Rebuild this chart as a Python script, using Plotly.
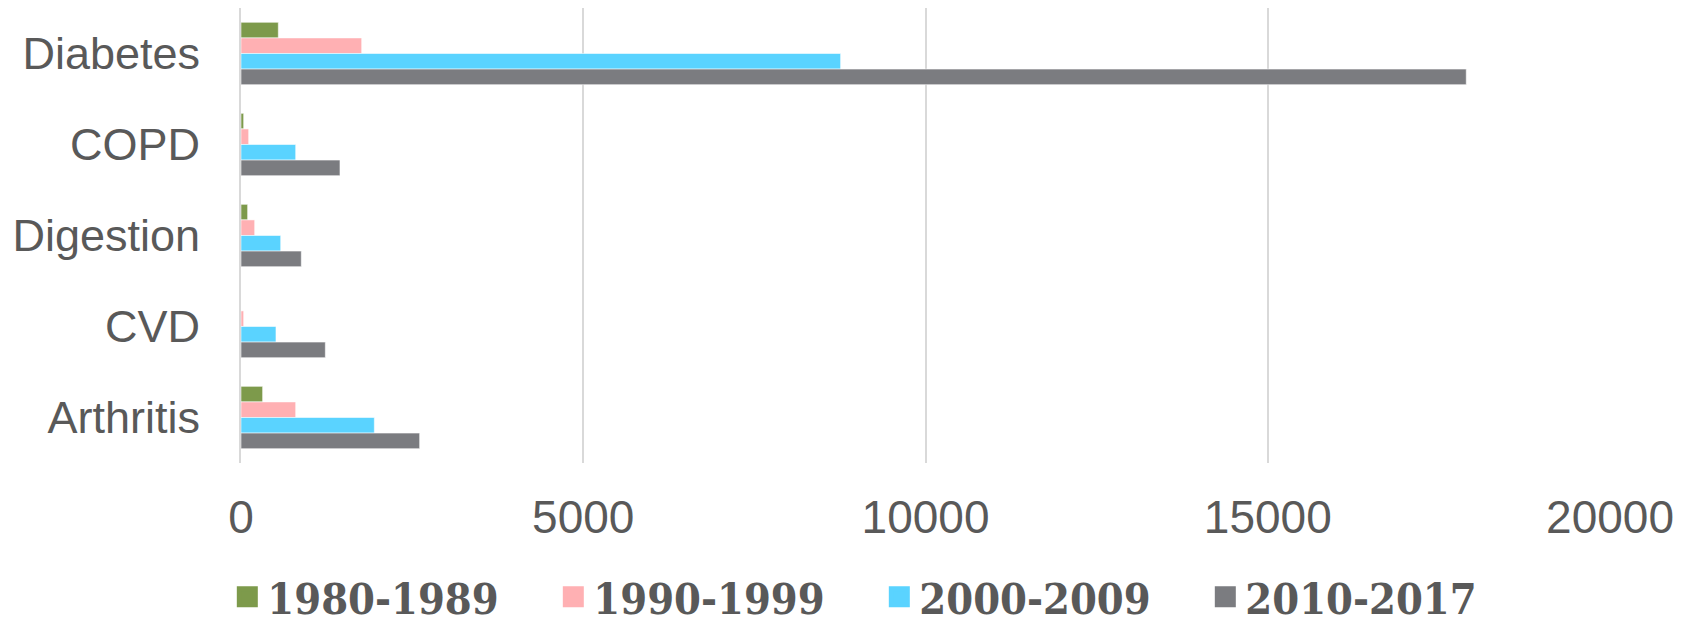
import plotly.graph_objects as go

# Disease categories, listed top to bottom
categories = ["Diabetes", "COPD", "Digestion", "CVD", "Arthritis"]

# Counts per decade, in the same order as categories
decades = ["1980-1989", "1990-1999", "2000-2009", "2010-2017"]
v_1980s = [545, 39, 97, 0, 316]
v_1990s = [1763, 112, 200, 39, 799]
v_2000s = [8760, 799, 580, 511, 1948]
v_2010s = [17900, 1446, 881, 1232, 2610]
series = [v_1980s, v_1990s, v_2000s, v_2010s]

x_ticks = [0, 5000, 10000, 15000, 20000]

colors = ["#7D9A4B", "#FFB0B3", "#5AD3FF", "#7B7C80"]
text_color = "#595959"
grid_color = "#D9D9D9"

fig = go.Figure()

for name, vals, col in zip(decades, series, colors):
    fig.add_trace(go.Bar(
        y=categories,
        x=vals,
        name=name,
        orientation="h",
        marker=dict(color=col, line=dict(color="rgba(255,255,255,0.55)", width=1)),
        showlegend=False,
    ))

# Legend entries with larger square swatches
for name, col in zip(decades, colors):
    fig.add_trace(go.Scatter(
        x=[None], y=[None],
        mode="markers",
        name=name,
        marker=dict(symbol="square", size=16, color=col,
                    line=dict(color=col, width=5)),
        showlegend=True,
    ))

fig.update_layout(
    width=1696,
    height=620,
    margin=dict(l=241, r=86, t=8, b=157, autoexpand=False),
    paper_bgcolor="white",
    plot_bgcolor="white",
    barmode="group",
    bargap=0.315,
    bargroupgap=0,
    showlegend=True,
    legend=dict(
        orientation="h",
        x=-0.010,
        xanchor="left",
        y=-0.294,
        yanchor="middle",
        entrywidth=281,
        entrywidthmode="pixels",
        traceorder="normal",
        font=dict(family="DejaVu Serif Condensed, DejaVu Serif, serif",
                  size=43, color=text_color, weight="bold"),
        bgcolor="rgba(0,0,0,0)",
    ),
    font=dict(family="Liberation Sans, Arial, sans-serif", color=text_color),
)

fig.update_xaxes(
    range=[0, 20000],
    tickvals=x_ticks,
    ticktext=[str(t) for t in x_ticks],
    showgrid=True,
    gridcolor=grid_color,
    gridwidth=2,
    zeroline=False,
    showline=False,
    ticks="",
    automargin=False,
    ticklabelstandoff=23,
    tickfont=dict(family="Liberation Sans, Arial, sans-serif", size=46, color=text_color),
)

fig.update_yaxes(
    type="category",
    categoryorder="array",
    categoryarray=categories,
    autorange="reversed",
    showgrid=False,
    zeroline=False,
    showline=True,
    linecolor=grid_color,
    linewidth=2,
    ticks="",
    automargin=False,
    ticklabelstandoff=30,
    tickfont=dict(family="Liberation Sans, Arial, sans-serif", size=45, color=text_color),
)

fig.write_html("out.html")
